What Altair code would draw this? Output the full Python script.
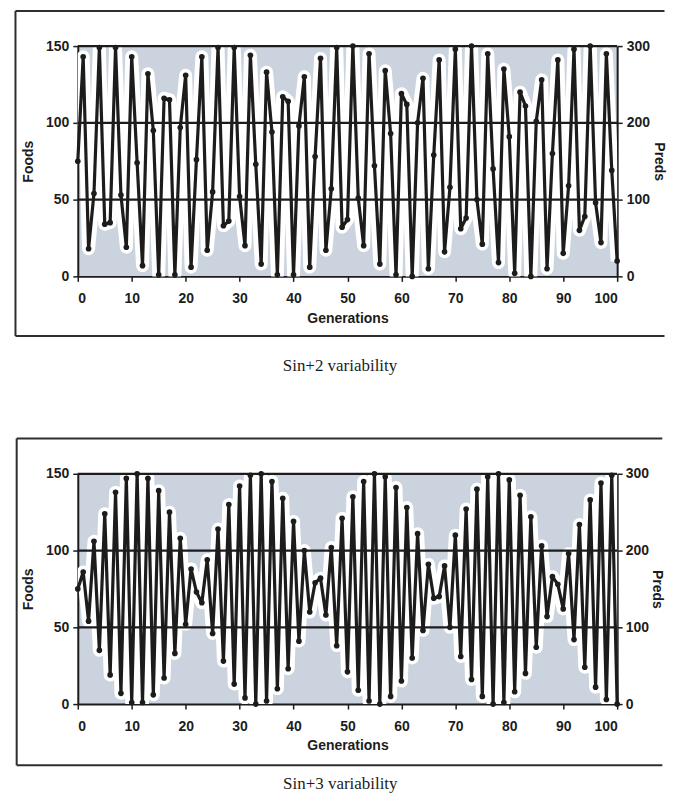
import altair as alt
import pandas as pd

# ---------------- data ----------------
generations = list(range(0, 101))

foods_sin2 = [75, 143, 18, 54, 149, 34, 35, 149, 53, 19,
              143, 74, 7, 132, 95, 1, 116, 115, 1, 97,
              131, 6, 76, 143, 17, 55, 149, 33, 36, 149,
              52, 20, 144, 73, 8, 133, 94, 1, 117, 114,
              1, 98, 130, 6, 78, 142, 17, 57, 149, 32,
              37, 150, 51, 20, 145, 72, 8, 134, 93, 1,
              119, 112, 0, 100, 129, 5, 79, 141, 16, 58,
              148, 31, 38, 150, 50, 21, 145, 70, 9, 135,
              91, 2, 120, 111, 0, 101, 128, 5, 80, 141,
              15, 59, 148, 30, 39, 150, 48, 22, 145, 69,
              10]

foods_sin3 = [75, 86, 54, 106, 35, 124, 19, 138, 7, 147,
              1, 150, 1, 147, 6, 139, 17, 125, 33, 108,
              52, 88, 73, 66, 94, 46, 114, 28, 130, 13,
              142, 4, 149, 0, 150, 2, 145, 10, 134, 23,
              119, 41, 100, 60, 79, 82, 58, 102, 38, 121,
              21, 135, 9, 145, 2, 150, 0, 148, 5, 141,
              15, 128, 30, 111, 48, 91, 69, 70, 90, 50,
              110, 31, 127, 16, 140, 5, 148, 0, 150, 1,
              146, 8, 136, 20, 122, 37, 103, 57, 83, 78,
              62, 98, 42, 117, 24, 133, 11, 144, 3, 149,
              0]

x_ticks = list(range(0, 101, 10))
foods_ticks = [0, 50, 100, 150]
preds_ticks = [0, 100, 200, 300]
grid_values = [50, 100, 150]
captions = ["Sin+2  variability", "Sin+3  variability"]

# ---------------- styling ----------------
SANS = "Liberation Sans, Arial, sans-serif"
SERIF = "Liberation Serif, Times New Roman, serif"
INK = "#1c1c1c"
PLOT_BG = "#cbd3de"


def make_panel(values, caption, W, H, frame, cap_xy, bounds, r_lab_pad, r_title_pad):
    df = pd.DataFrame({"gen": generations, "foods": values})
    gdf = pd.DataFrame({"g": grid_values})
    one = pd.DataFrame({"k": [0]})

    xdef = alt.X("gen:Q",
                 scale=alt.Scale(domain=[0, 100], nice=False, zero=False),
                 axis=alt.Axis(values=x_ticks, title="Generations", grid=False,
                               tickSize=5, labelPadding=10, titlePadding=6))

    def ydef(field):
        return alt.Y(f"{field}:Q",
                     scale=alt.Scale(domain=[0, 150], nice=False),
                     axis=alt.Axis(values=foods_ticks, title="Foods", orient="left",
                                   grid=False, tickSize=5, labelPadding=4,
                                   titlePadding=10))

    base = alt.Chart(df)
    halo = base.mark_line(color="white", strokeWidth=13, strokeJoin="round",
                          clip=True).encode(x=xdef, y=ydef("foods"))
    grid = alt.Chart(gdf).mark_rule(color=INK, strokeWidth=2.2).encode(y=ydef("g"))
    line = base.mark_line(color=INK, strokeWidth=3.2, strokeJoin="round").encode(
        x=xdef, y=ydef("foods"))
    pts = base.mark_circle(color=INK, size=32, opacity=1).encode(
        x=xdef, y=ydef("foods"))

    fl, ft, fr, fb = frame
    fc = alt.Chart(one)
    frame_top = fc.mark_rule(color="#2e2e2e", strokeWidth=2).encode(
        x=alt.value(fl), x2=alt.value(fr), y=alt.value(ft))
    frame_bottom = fc.mark_rule(color="#2e2e2e", strokeWidth=2).encode(
        x=alt.value(fl), x2=alt.value(fr), y=alt.value(fb))
    frame_left = fc.mark_rule(color="#2e2e2e", strokeWidth=2).encode(
        x=alt.value(fl), y=alt.value(ft), y2=alt.value(fb))
    cap = fc.mark_text(text=caption, font=SERIF, fontSize=17, color=INK,
                       align="center", baseline="middle").encode(
        x=alt.value(cap_xy[0]), y=alt.value(cap_xy[1]))

    extra = []
    for (bx, by, bx2, by2) in bounds:
        extra.append(fc.mark_rule(color="white", strokeWidth=1).encode(
            x=alt.value(bx), x2=alt.value(bx2), y=alt.value(by), y2=alt.value(by2)))

    left = alt.layer(halo, grid, line, pts, frame_top, frame_bottom, frame_left,
                     cap, *extra)

    right = base.mark_point(opacity=0).encode(
        x=xdef,
        y=alt.Y("foods:Q", scale=alt.Scale(domain=[0, 300], nice=False),
                axis=alt.Axis(values=preds_ticks, title="Preds", orient="right",
                              grid=False, tickSize=5, labelPadding=r_lab_pad,
                              titlePadding=r_title_pad)))

    return alt.layer(left, right).resolve_scale(y="independent").properties(
        width=W, height=H)


p1 = make_panel(foods_sin2, captions[0], 541, 231,
                frame=(-62.5, -35.3, 588.5, 290.7), cap_xy=(263, 320.7),
                bounds=[(-62.5, 391.5, -50, 391.5)], r_lab_pad=4, r_title_pad=2)
p2 = make_panel(foods_sin3, captions[1], 541, 231,
                frame=(-61.3, -35.4, 586.3, 292.3), cap_xy=(263.3, 311.5),
                bounds=[(-65.2, -35.4, -65.2, -20)], r_lab_pad=3, r_title_pad=1)

chart = alt.vconcat(p1, p2, spacing=0).properties(
    padding={"left": 4, "top": 0, "right": 3, "bottom": 0}
).configure_view(
    fill=PLOT_BG, stroke=None
).configure_axis(
    labelFont=SANS, titleFont=SANS, labelFontSize=14, titleFontSize=14,
    labelFontWeight="bold", titleFontWeight="bold",
    labelColor=INK, titleColor=INK,
    domainColor=INK, tickColor=INK, domainWidth=2, tickWidth=1.5
)

chart.save("out.html", embed_options={"renderer": "svg", "actions": False})
